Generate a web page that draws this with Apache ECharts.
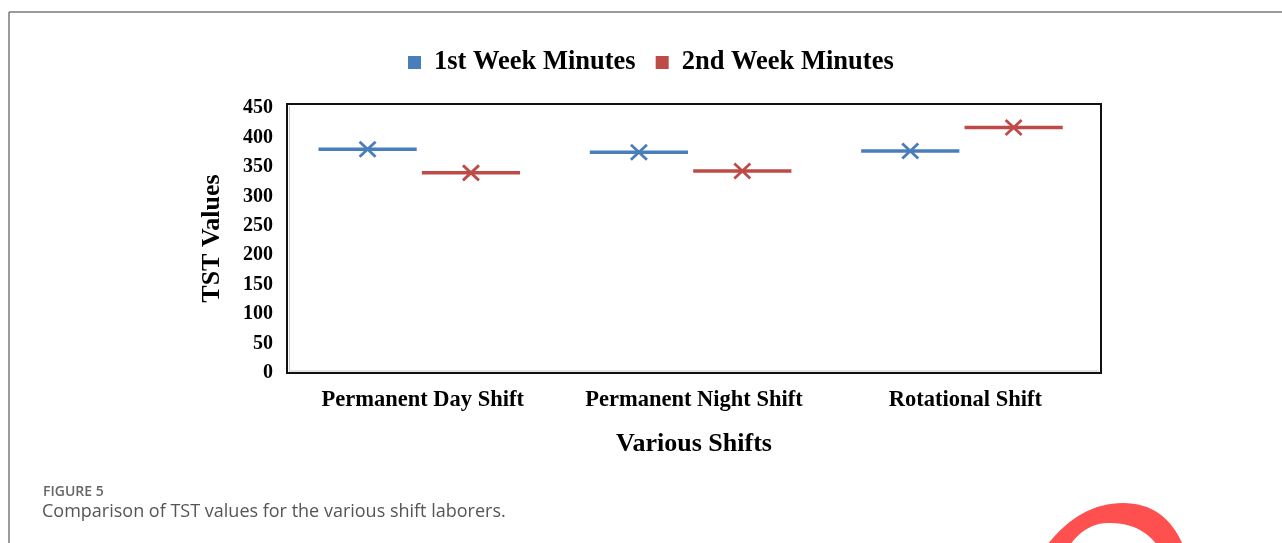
<!DOCTYPE html>
<html>
<head>
<meta charset="utf-8">
<style>
html,body{margin:0;padding:0;background:#fff;}
#chart{width:1282px;height:543px;}
</style>
<script src="https://cdn.jsdelivr.net/npm/echarts@6/dist/echarts.min.js"></script>
</head>
<body>
<div id="chart"></div>
<script>
// ---- data ----
const categories = ['Permanent Day Shift', 'Permanent Night Shift', 'Rotational Shift'];
const seriesNames = ['1st Week Minutes', '2nd Week Minutes'];
const week1 = [380, 375, 377];
const week2 = [340, 343, 417];
const yTicks = [0, 50, 100, 150, 200, 250, 300, 350, 400, 450];

const BLUE = '#4A7EBB';
const RED = '#BE4B48';
const SERIF = '"Liberation Serif", "DejaVu Serif", serif';

function makeRender(offsetFrac, color) {
  return function (params, api) {
    const pt = api.coord([api.value(0), api.value(1)]);
    const band = api.size([1, 0])[0];
    const cx = pt[0] + offsetFrac * band;
    const cy = pt[1];
    const half = band * 0.181;
    const mx = 8, my = 7.5;
    return {
      type: 'group',
      children: [
        { type: 'line', shape: { x1: cx - half, y1: cy, x2: cx + half, y2: cy },
          style: { stroke: color, lineWidth: 3.5 } },
        { type: 'line', shape: { x1: cx - mx, y1: cy - my, x2: cx + mx, y2: cy + my },
          style: { stroke: color, lineWidth: 2.8 } },
        { type: 'line', shape: { x1: cx - mx, y1: cy + my, x2: cx + mx, y2: cy - my },
          style: { stroke: color, lineWidth: 2.8 } }
      ]
    };
  };
}

// decorative logo arc (not data)
function quad(p0, p1, p2, n) {
  const out = [];
  for (let i = 0; i <= n; i++) {
    const t = i / n, u = 1 - t;
    out.push([u * u * p0[0] + 2 * u * t * p1[0] + t * t * p2[0], u * u * p0[1] + 2 * u * t * p1[1] + t * t * p2[1]]);
  }
  return out;
}
const logoPts = [].concat(
  quad([1047, 545], [1080, 503], [1123, 503], 16),
  quad([1123, 503], [1165, 503], [1183, 545], 16),
  quad([1157, 545], [1140, 522], [1107, 523], 16),
  quad([1107, 523], [1085, 524], [1070, 545], 16)
);

const chart = echarts.init(document.getElementById('chart'));
chart.setOption({
  backgroundColor: '#fff',
  animation: false,
  title: [
    { text: 'FIGURE 5', left: 38, top: 480,
      textStyle: { fontFamily: '"Open Sans", "Noto Sans", sans-serif', fontSize: 14, fontWeight: 600, color: '#666' } },
    { text: 'Comparison of TST values for the various shift laborers.', left: 37, top: 498,
      textStyle: { fontFamily: '"Open Sans", "Noto Sans", sans-serif', fontSize: 18, fontWeight: 'normal', color: '#555' } }
  ],
  legend: {
    data: seriesNames,
    left: 403, top: 44,
    icon: 'rect', itemWidth: 13, itemHeight: 13, itemGap: 20,
    textStyle: { fontFamily: SERIF, fontSize: 26.5, fontWeight: 'bold', color: '#000', padding: [0, 0, 0, 8] }
  },
  grid: {
    left: 287, top: 104, width: 814, height: 269,
    show: true, borderColor: '#111', borderWidth: 2, backgroundColor: '#fff'
  },
  xAxis: {
    type: 'category',
    data: categories,
    boundaryGap: true,
    axisLine: { show: false },
    axisTick: { show: false },
    axisLabel: { interval: 0, fontFamily: SERIF, fontSize: 22.5, fontWeight: 'bold', color: '#000', margin: 16 },
    name: 'Various Shifts', nameLocation: 'middle', nameGap: 58,
    nameTextStyle: { fontFamily: SERIF, fontSize: 26, fontWeight: 'bold', color: '#000' }
  },
  yAxis: {
    type: 'value',
    min: yTicks[0], max: 457, interval: yTicks[1] - yTicks[0],
    splitLine: { show: false },
    axisLine: { show: false },
    axisTick: { show: false },
    axisLabel: { fontFamily: SERIF, fontSize: 20, fontWeight: 'bold', color: '#000', margin: 14, showMaxLabel: false },
    name: 'TST Values', nameLocation: 'middle', nameGap: 62,
    nameTextStyle: { fontFamily: SERIF, fontSize: 26, fontWeight: 'bold', color: '#000' }
  },
  series: [
    { name: seriesNames[0], type: 'custom', itemStyle: { color: BLUE },
      renderItem: makeRender(-0.203, BLUE), encode: { x: 0, y: 1 },
      data: categories.map((c, i) => [i, week1[i]]) },
    { name: seriesNames[1], type: 'custom', itemStyle: { color: RED },
      renderItem: makeRender(0.178, RED), encode: { x: 0, y: 1 },
      data: categories.map((c, i) => [i, week2[i]]) }
  ],
  graphic: [
    { type: 'line', shape: { x1: 9, y1: 12, x2: 1282, y2: 12 }, style: { stroke: '#7a7a7a', lineWidth: 1.5 }, z: 10 },
    { type: 'line', shape: { x1: 9, y1: 12, x2: 9, y2: 543 }, style: { stroke: '#7a7a7a', lineWidth: 1.5 }, z: 10 },
    { type: 'line', shape: { x1: 289, y1: 371, x2: 1099, y2: 371 }, style: { stroke: '#c8c8c8', lineWidth: 1 }, z: 10 },
    { type: 'line', shape: { x1: 289.5, y1: 106, x2: 289.5, y2: 371 }, style: { stroke: '#c8c8c8', lineWidth: 1 }, z: 10 },
    { type: 'polygon', z: 10, shape: { points: logoPts }, style: { fill: '#FF5050' } }
  ]
});
</script>
</body>
</html>
